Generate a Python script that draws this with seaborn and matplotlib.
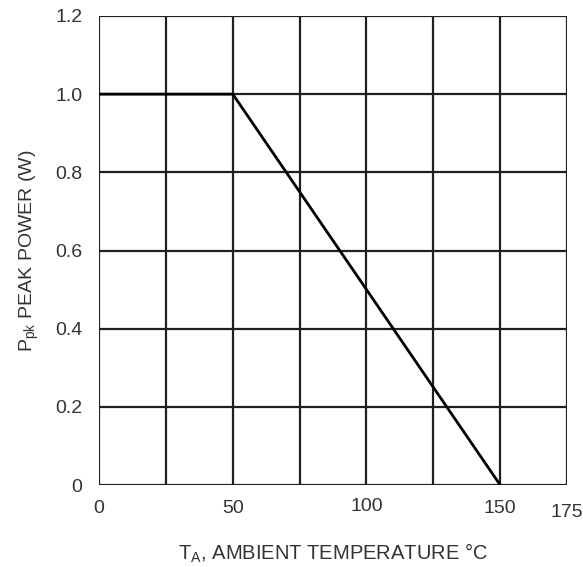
import matplotlib.pyplot as plt
import matplotlib.transforms as mtransforms
import pandas as pd
import seaborn as sns

# Derating curve data
temperature = [0, 50, 150]
peak_power = [1.0, 1.0, 0.0]

x_ticks = [0, 50, 100, 150, 175]
x_grid = [0, 25, 50, 75, 100, 125, 150, 175]
y_ticks = [0, 0.2, 0.4, 0.6, 0.8, 1.0, 1.2]
y_tick_labels = ["0", "0.2", "0.4", "0.6", "0.8", "1.0", "1.2"]

LINE = "#231f20"
TEXT = "#333333"

sns.set_theme(style="white")
plt.rcParams["font.family"] = ["Liberation Sans", "DejaVu Sans"]

df = pd.DataFrame({"temp": temperature, "power": peak_power})

fig = plt.figure(figsize=(5.83, 5.67), dpi=100)
ax = fig.add_axes([0.170, 0.1446, 0.8026, 0.8272])

# grid lines every 25 degrees / 0.2 W
for xv in x_grid:
    ax.axvline(xv, color=LINE, linewidth=1.6, zorder=1)
for yv in y_ticks:
    ax.axhline(yv, color=LINE, linewidth=1.6, zorder=1)

sns.lineplot(data=df, x="temp", y="power", ax=ax, color="black",
             linewidth=2.0, zorder=3)

ax.set_xlim(0, 175)
ax.set_ylim(0, 1.2)
for s in ax.spines.values():
    s.set_visible(False)

ax.set_xticks(x_ticks)
ax.set_xticklabels([str(v) for v in x_ticks])
ax.set_yticks(y_ticks)
ax.set_yticklabels(y_tick_labels)
ax.tick_params(axis="both", length=0, labelsize=14, colors=TEXT)
ax.tick_params(axis="x", pad=11)
ax.tick_params(axis="y", pad=12)

# the original labels sit a little unevenly
nudge = {"100": 1.5, "175": -2.5}
for lbl in ax.get_xticklabels():
    dy = nudge.get(lbl.get_text(), 0)
    if dy:
        off = mtransforms.ScaledTranslation(0, dy / 72, fig.dpi_scale_trans)
        lbl.set_transform(lbl.get_transform() + off)

ax.set_xlabel("T$_{\\mathregular{A}}$, AMBIENT TEMPERATURE \u00b0C",
              fontsize=14.5, color=TEXT, labelpad=15)
ax.set_ylabel("P$_{\\mathregular{pk}}$ PEAK POWER (W)",
              fontsize=14, color=TEXT, labelpad=10)

fig.savefig("out.png", dpi=100)
